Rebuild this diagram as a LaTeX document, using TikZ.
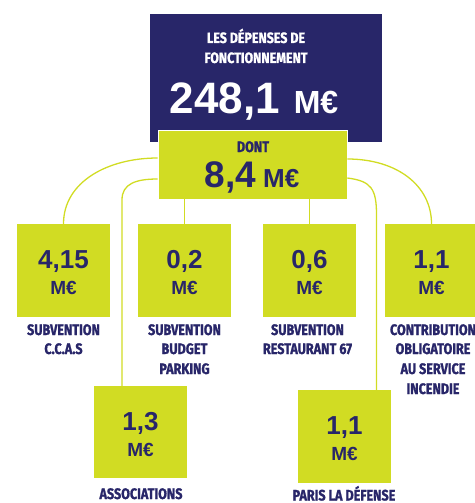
\documentclass[tikz,border=0pt]{standalone}
\usepackage{fontspec}
\setmainfont{Liberation Sans}
\newfontfamily\cond{Fira Sans}[FakeStretch=0.83, BoldFeatures={FakeBold=1.2}]
\definecolor{navy}{RGB}{40,38,105}
\definecolor{lime}{RGB}{209,220,35}
\begin{document}
\begin{tikzpicture}[x=1pt,y=-1pt,
 box/.style={fill=lime, draw=none, minimum width=93pt, minimum height=93pt, inner sep=0},
 lbl/.style={font=\cond\bfseries\fontsize{15.2}{15.2}\selectfont, text=navy, inner sep=0, anchor=base},
 ttl/.style={font=\cond\bfseries\fontsize{15}{15}\selectfont, text=white, inner sep=0, anchor=base},
 num/.style={font=\bfseries\fontsize{26}{26}\selectfont, text=navy, inner sep=0, anchor=base},
 cur/.style={font=\bfseries\fontsize{19}{19}\selectfont, text=navy, inner sep=0, anchor=base},
 link/.style={draw=lime, line width=1.3pt}]
\useasboundingbox (0,0) rectangle (474,503);
% main boxes
\node[fill=navy, minimum width=232pt, minimum height=128pt, inner sep=0] (top) at (266,78) {};
\node[fill=lime, draw=white, line width=0.6pt, minimum width=189pt, minimum height=69pt, inner sep=0] (g) at (252.5,164.5) {};
% small boxes
\node[box] (b1) at (63.5,270.5) {};
\node[box] (b2) at (184.5,270.5) {};
\node[box] (b3) at (309.5,270.5) {};
\node[box] (b4) at (431.5,270.5) {};
\node[box, minimum height=92pt] (b5) at (140.5,432) {};
\node[box] (b6) at (344.5,436.5) {};
% connectors
\draw[link] (b1.north) .. controls +(0,-42) and +(-50,0) .. ([yshift=6.5pt]g.west);
\draw[link] ([xshift=-18.5pt]b5.north) -- ([xshift=-18.5pt,yshift=186pt]b5.north)
  .. controls +(0,-16) and +(-22,0) .. ([yshift=-14.5pt]g.west);
\draw[link] (b2.north) -- (b2.north |- g.south);
\draw[link] (b3.north) -- (b3.north |- g.south);
\draw[link] ([yshift=5.5pt]g.east) .. controls +(50,0) and +(0,-38) .. (b4.north);
\draw[link] ([yshift=-13.5pt]g.east) .. controls +(24,3) and +(0,-26) .. ([xshift=32pt,yshift=175pt]b6.north)
  -- ([xshift=32pt]b6.north);
% texts in top box
\node[ttl] (t1) at (256,43) {LES DÉPENSES DE};
\node[ttl] (t2) at (256,63) {FONCTIONNEMENT};
\node[inner sep=0, anchor=base, text=white, font=\bfseries] (t3) at (254,113) {\fontsize{44}{44}\selectfont 248,1\hspace{14pt}\fontsize{32}{32}\selectfont M€};
\node[lbl] (d1) at (253,152) {DONT};
\node[inner sep=0, anchor=base, text=navy, font=\bfseries] (d2) at (252,187) {\fontsize{37}{37}\selectfont 8,4\hspace{7pt}\fontsize{26}{26}\selectfont M€};
% numbers in small boxes
\node[num] (n1) at (63.5,268) {4,15};
\node[cur] (m1) at (63.5,294) {M€};
\node[num] (n2) at (184.5,268) {0,2};
\node[cur] (m2) at (184.5,294) {M€};
\node[num] (n3) at (309.5,268) {0,6};
\node[cur] (m3) at (309.5,294) {M€};
\node[num] (n4) at (431.5,268) {1,1};
\node[cur] (m4) at (431.5,294) {M€};
\node[num] (n5) at (140.5,430) {1,3};
\node[cur] (m5) at (140.5,456) {M€};
\node[num] (n6) at (344.5,434) {1,1};
\node[cur] (m6) at (344.5,460) {M€};
% labels
\node[lbl] (l1a) at (63.5,335) {SUBVENTION};
\node[lbl] (l1b) at (63.5,354) {C.C.A.S};
\node[lbl] (l2a) at (184.5,335) {SUBVENTION};
\node[lbl] (l2b) at (184.5,354) {BUDGET};
\node[lbl] (l2c) at (184.5,374) {PARKING};
\node[lbl] (l3a) at (307.5,335) {SUBVENTION};
\node[lbl] (l3b) at (307.5,354) {RESTAURANT 67};
\node[lbl] (l4a) at (433,335) {CONTRIBUTION};
\node[lbl] (l4b) at (433,354) {OBLIGATOIRE};
\node[lbl] (l4c) at (433,374) {AU SERVICE};
\node[lbl] (l4d) at (433,394) {INCENDIE};
\node[lbl] (l5) at (141,499) {ASSOCIATIONS};
\node[lbl] (l6) at (344,500.5) {PARIS LA DÉFENSE};
\end{tikzpicture}
\end{document}
